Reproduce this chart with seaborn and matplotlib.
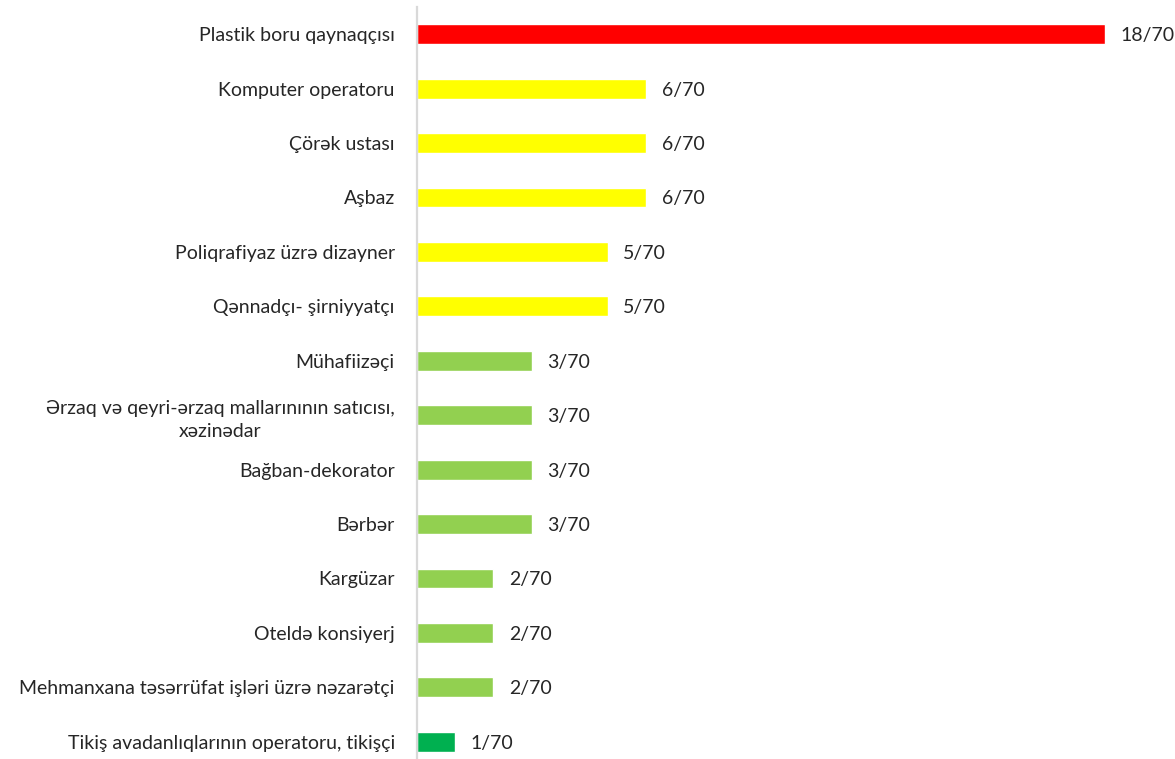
import pandas as pd
import seaborn as sns
import matplotlib.pyplot as plt

# Data
professions = [
    'Plastik boru qaynaqçısı',
    'Komputer operatoru',
    'Çörək ustası',
    'Aşbaz',
    'Poliqrafiyaz üzrə dizayner',
    'Qənnadçı- şirniyyatçı',
    'Mühafiizəçi',
    'Ərzaq və qeyri-ərzaq mallarınının satıcısı,\nxəzinədar',
    'Bağban-dekorator',
    'Bərbər',
    'Kargüzar',
    'Oteldə konsiyerj',
    'Mehmanxana təsərrüfat işləri üzrə nəzarətçi',
    'Tikiş avadanlıqlarının operatoru, tikişçi',
]
counts = [18, 6, 6, 6, 5, 5, 3, 3, 3, 3, 2, 2, 2, 1]
total = 70
bar_colors = ['#FF0000'] + ['#FFFF00'] * 5 + ['#92D050'] * 7 + ['#00B050']

df = pd.DataFrame({'profession': professions, 'count': counts})

sns.set_style('white')
plt.rcParams['font.family'] = ['Lato', 'DejaVu Sans']

fig = plt.figure(figsize=(11.75, 7.59), dpi=100)
W, H = 1175, 759
ax = fig.add_axes([417 / W, 0, (W - 417) / W, (H - 7) / H])

sns.barplot(data=df, x='count', y='profession', hue='profession',
            palette=bar_colors, width=0.367, orient='h', legend=False, ax=ax,
            saturation=1)

# scale: 18 units -> 688 px
px_per_unit = (1105 - 417) / 18
ax.set_xlim(0, (W - 417) / px_per_unit)
ax.set_ylim(13.5 - 10 / 54.5, -0.5)

for i, c in enumerate(counts):
    ax.annotate(f'{c}/{total}', xy=(c, i), xytext=(11, -1),
                textcoords='offset points', va='center', ha='left',
                fontsize=14, color='#262626', annotation_clip=False)

ax.set_xlabel('')
ax.set_ylabel('')
ax.set_xticks([])
ax.tick_params(axis='y', length=0, pad=16, labelsize=14, labelcolor='#262626')
for lab in ax.get_yticklabels():
    lab.set_multialignment('center')
    lab.set_linespacing(1.45)

for s in ['top', 'right', 'bottom']:
    ax.spines[s].set_visible(False)
ax.spines['left'].set_color('#D9D9D9')
ax.spines['left'].set_linewidth(1.6)

fig.savefig('out.png', dpi=100)
